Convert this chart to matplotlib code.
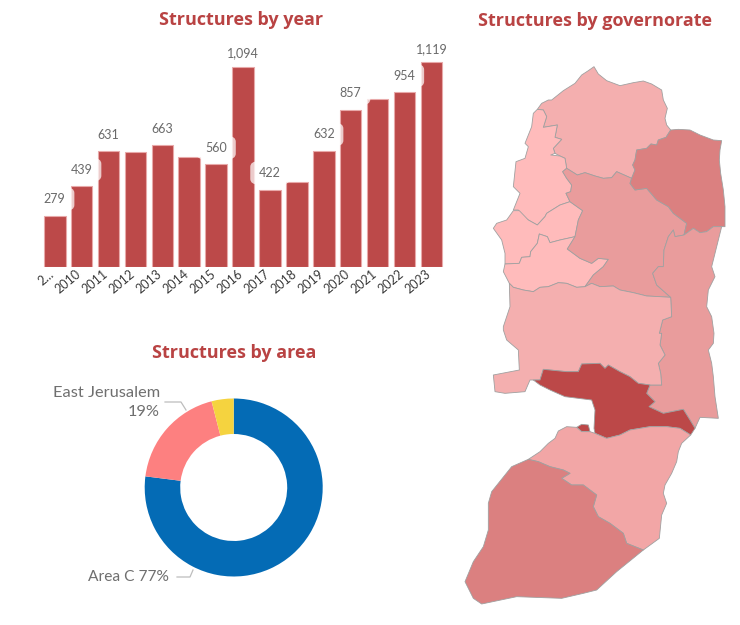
import matplotlib
matplotlib.use("Agg")
import matplotlib.pyplot as plt
from matplotlib.patches import Polygon
from matplotlib.transforms import ScaledTranslation

W, H = 740, 625
TITLE_RED = "#B94343"

# bars
years = ["2...", "2010", "2011", "2012", "2013", "2014", "2015", "2016",
         "2017", "2018", "2019", "2020", "2021", "2022", "2023"]
structures = [279, 439, 631, 626, 663, 602, 560, 1094, 422, 465, 632, 857, 917, 954, 1119]
labelled = ["2...", "2010", "2011", "2013", "2015", "2016", "2017", "2019", "2020", "2022", "2023"]

# donut
area_names = ["Area C", "East Jerusalem", "Other"]
area_share = [77, 19, 4]
area_colors = ["#046BB5", "#FD8080", "#F5D33F"]

# governorate outlines (zoom crop coords)
jenin = [(232,178),(245,160),(265,150),(275,150),(310,122),(345,100),(365,75),(385,62),(402,50),(415,72),(440,92),(480,107),(520,98),(550,93),(575,102),(605,120),(610,150),(622,175),(615,205),(620,225),(632,240),(618,262),(595,270),(590,285),(573,282),(560,295),(530,300),(525,330),(518,345),(525,360),(515,385),(470,365),(455,383),(430,385),(405,378),(375,368),(352,375),(320,355),(315,325),(300,318),(285,310),(280,295),(305,268),(285,262),(292,225),(250,232),(260,200),(250,180)]
tulkarm = [(232,178),(250,180),(260,200),(250,232),(292,225),(285,262),(305,268),(280,295),(285,310),(272,315),(300,318),(315,325),(320,355),(308,365),(320,385),(335,405),(332,425),(318,430),(330,455),(300,465),(260,490),(255,500),(232,525),(205,510),(180,495),(175,480),(160,480),(180,430),(160,410),(168,335),(195,325),(205,290),(195,280),(215,230),(220,190)]
qalqilya = [(160,482),(178,482),(205,510),(232,525),(255,500),(260,490),(300,465),(330,455),(368,482),(355,510),(345,560),(300,570),(270,578),(262,560),(238,552),(232,580),(212,605),(210,620),(185,622),(178,640),(135,642),(135,610),(125,570),(100,535),(110,520),(140,510)]
salfit = [(135,642),(178,640),(185,622),(210,620),(212,605),(232,580),(238,552),(262,560),(270,578),(300,570),(345,560),(322,597),(360,625),(395,640),(415,625),(445,628),(430,650),(400,675),(375,710),(350,712),(320,700),(295,698),(265,710),(240,712),(220,725),(190,720),(160,712),(148,700),(130,665)]
nablus = [(308,365),(320,355),(352,375),(375,368),(405,378),(430,385),(455,383),(470,365),(515,385),(510,400),(525,420),(560,415),(590,450),(625,470),(640,490),(680,520),(672,555),(645,560),(640,540),(625,560),(612,600),(610,650),(595,650),(578,670),(590,705),(632,742),(600,740),(560,738),(520,728),(480,720),(460,708),(420,710),(395,700),(375,710),(400,675),(430,650),(445,628),(415,625),(395,640),(360,625),(322,597),(345,560),(355,510),(368,482),(330,455),(318,430),(332,425),(335,405),(320,385)]
tubas = [(515,385),(525,360),(518,345),(525,330),(530,300),(560,295),(573,282),(590,285),(595,270),(618,262),(632,240),(655,238),(690,240),(720,255),(760,270),(785,272),(780,300),(778,330),(782,370),(790,420),(795,470),(795,530),(760,530),(740,545),(720,548),(700,535),(672,555),(680,520),(640,490),(625,470),(590,450),(560,415),(525,420),(510,400)]
jericho_a = [(672,555),(700,535),(720,548),(740,545),(760,530),(785,530),(775,570),(765,610),(755,650),(765,680),(745,720),(740,770),(755,800),(762,850)]
jericho_b = [(790,40),(775,60),(785,100),(790,140),(795,200),(805,265),(750,262),(735,295),(720,270),(700,238),(640,250),(597,230),(615,215),(590,190),(600,165),(635,165),(632,130),(625,100),(645,75),(630,45),(635,10)]
jericho_c = [(598,850),(608,810),(635,800),(632,742),(590,705),(578,670),(595,650),(610,650),(612,600),(625,560),(640,540),(645,560)]
ramallah_a = [(148,700),(160,712),(190,720),(220,725),(240,712),(265,710),(295,698),(320,700),(350,712),(375,710),(395,700),(420,710),(460,708),(480,720),(520,728),(560,738),(600,740),(632,742),(635,800),(608,810),(598,850)]
ramallah_b = [(635,10),(630,45),(645,75),(625,100),(632,130),(635,165),(600,165),(565,160),(540,140),(510,125),(475,105),(465,115),(450,100),(395,102),(385,125),(350,125),(280,118),(270,150),(250,150),(240,150),(225,185),(165,190),(135,185),(130,135),(208,120),(205,60),(170,30),(160,0)]
ramallah_c = [(130,830),(150,770)]
jerusalem = [(250,150),(270,150),(280,118),(350,125),(385,125),(395,102),(450,100),(465,115),(475,105),(510,125),(540,140),(565,160),(600,165),(590,190),(615,215),(597,230),(640,250),(700,238),(720,270),(735,295),(722,315),(690,295),(650,290),(600,290),(540,300),(510,315),(470,325),(435,310),(432,295),(435,240),(425,210),(385,205),(345,200),(300,180),(270,165)]
jerusalem_enclave = [(380,292),(395,283),(415,285),(420,305),(395,305)]
bethlehem = [(235,388),(270,365),(295,340),(315,325),(325,303),(350,290),(380,292),(395,305),(420,305),(435,310),(470,325),(510,315),(540,300),(600,290),(650,290),(690,295),(722,315),(695,340),(685,365),(680,395),(665,430),(645,465),(640,490),(650,520),(635,555),(628,625),(580,660),(530,640),(520,610),(480,580),(445,560),(430,530),(440,495),(400,465),(365,465),(335,445),(360,430),(340,420),(300,410),(265,395)]
hebron = [(235,388),(265,395),(300,410),(340,420),(360,430),(335,445),(365,465),(400,465),(440,495),(430,530),(445,560),(480,580),(520,610),(530,640),(580,660),(500,725),(440,780),(400,790),(335,805),(200,800),(95,822),(70,805),(45,755),(70,695),(100,650),(115,600),(115,520),(125,485),(185,410)]


def north(points):
    return [(460 + x / 3, 50 + y / 3) for x, y in points]


def south(points):
    return [(450 + x / 3, 330 + y / 3) for x, y in points]


map_shapes = [
    (north(jenin), "#F4AFAF"),
    (north(tulkarm), "#FFBBBB"),
    (north(qalqilya), "#FFBBBB"),
    (north(salfit), "#FFBBBB"),
    (north(nablus), "#E99C9C"),
    (north(tubas), "#DB8080"),
    (north(jericho_a) + south(jericho_b) + north(jericho_c), "#E99C9C"),
    (north(ramallah_a) + south(ramallah_b) + north(ramallah_c), "#F4AFAF"),
    (south(jerusalem), "#BC4848"),
    (south(jerusalem_enclave), "#BC4848"),
    (south(bethlehem), "#F2A6A6"),
    (south(hebron), "#DB8080"),
]


def px_axes(left, top, right, bottom):
    return fig.add_axes([left / W, 1 - bottom / H, (right - left) / W, (bottom - top) / H])


fig = plt.figure(figsize=(W / 100, H / 100), dpi=100)

# overlay in pixel coords for the map, titles and callouts
page = fig.add_axes([0, 0, 1, 1])
page.set_xlim(0, W)
page.set_ylim(H, 0)
page.axis("off")

page.text(241, 20, "Structures by year", ha="center", va="center", color=TITLE_RED,
          fontsize=13, fontweight="bold", family="Open Sans")
page.text(595, 21, "Structures by governorate", ha="center", va="center", color=TITLE_RED,
          fontsize=13, fontweight="bold", family="Open Sans")
page.text(234, 353, "Structures by area", ha="center", va="center", color=TITLE_RED,
          fontsize=13, fontweight="bold", family="Open Sans")

for points, color in map_shapes:
    page.add_patch(Polygon(points, closed=True, facecolor=color, edgecolor="#A0A0A0",
                           linewidth=0.6, joinstyle="round"))

# bar chart
ax = px_axes(41.3, 40, 444.8, 266.7)
ax.patch.set_alpha(0)
xs = list(range(len(years)))
ax.bar(xs, structures, width=0.8, color="#BC4949", edgecolor="#E8A9A9", linewidth=0.8)
ax.set_xlim(-0.5, len(years) - 0.5)
ax.set_ylim(0, 1240)
for side in ax.spines.values():
    side.set_visible(False)
ax.set_yticks([])
ax.set_xticks(xs)
ax.set_xticklabels(years, rotation=40, ha="right", rotation_mode="anchor",
                   fontsize=9, family="Lato", color="#3A3A3A")
ax.tick_params(axis="x", length=0, pad=1)
# labels sit a bit left of the bar centre
shift = ScaledTranslation(-6 / 100, 0, fig.dpi_scale_trans)
for tick in ax.get_xticklabels():
    tick.set_transform(tick.get_transform() + shift)

for x, year, value in zip(xs, years, structures):
    if year not in labelled:
        continue
    gap = 9.5 if value > 1000 else 12
    ax.annotate(f"{value:,}", (x, value), xytext=(0, gap), textcoords="offset points",
                ha="center", va="center", fontsize=9, family="Lato", color="#6A6A6A",
                zorder=5, annotation_clip=False,
                bbox=dict(boxstyle="round,pad=0.7", facecolor="white", edgecolor="none",
                          alpha=0.72, mutation_aspect=0.65))

# donut
dx = px_axes(233.7 - 89, 487.5 - 89, 233.7 + 89, 487.5 + 89)
dx.pie(area_share, colors=area_colors, startangle=90, counterclock=False, radius=1,
       wedgeprops=dict(width=1 - 53.5 / 89))
dx.set_xlim(-1, 1)
dx.set_ylim(-1, 1)

page.plot([165, 181, 186], [402, 402, 410], color="#BDBDBD", linewidth=0.9)
page.plot([177, 190, 193], [577, 577, 570], color="#BDBDBD", linewidth=0.9)
page.text(160, 393, "East Jerusalem", ha="right", va="center", fontsize=11.8, family="Lato", color="#6F6F6F")
page.text(160, 412, "19%", ha="right", va="center", fontsize=11.8, family="Lato", color="#6F6F6F")
page.text(169, 577, "Area C 77%", ha="right", va="center", fontsize=11.2, family="Lato", color="#6F6F6F")

fig.savefig("out.png", dpi=100)
